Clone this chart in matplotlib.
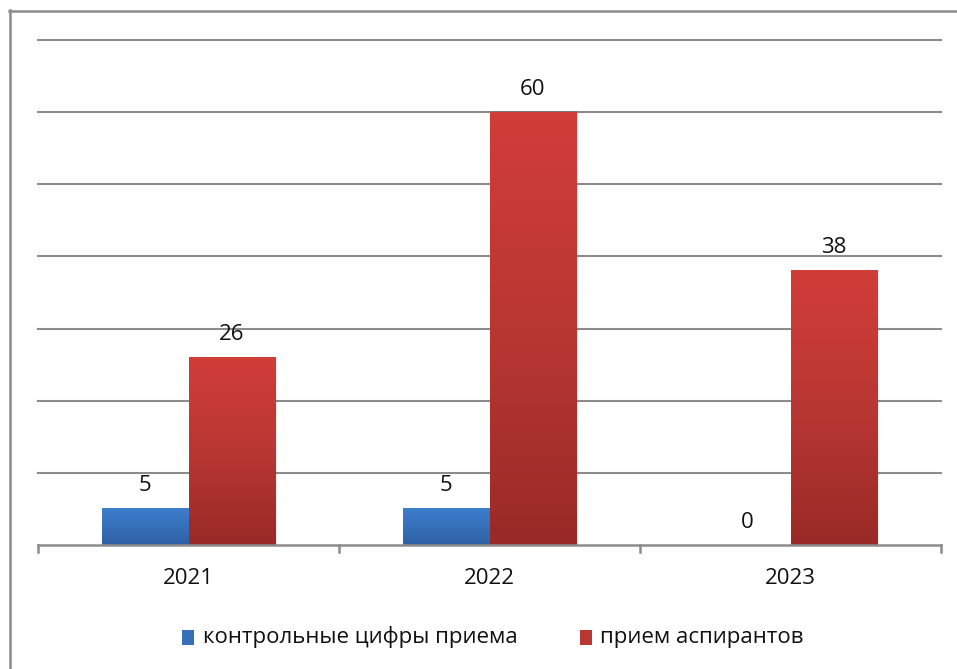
import numpy as np
import matplotlib
matplotlib.use("Agg")
import matplotlib.pyplot as plt
from matplotlib.colors import LinearSegmentedColormap
from matplotlib.lines import Line2D
from matplotlib.patches import Rectangle

plt.rcParams['font.family'] = ['Open Sans', 'DejaVu Sans']

years = ["2021", "2022", "2023"]
quota = [5, 5, 0]          # контрольные цифры приема
admitted = [26, 60, 38]    # прием аспирантов
series_names = ["контрольные цифры приема", "прием аспирантов"]

W, H = 957, 669
fig = plt.figure(figsize=(W / 100, H / 100), dpi=100)
fig.patch.set_facecolor("white")

# outer frame of the chart area
frame_col = "#8a8a8a"
fig.add_artist(Line2D([9.5 / W, 9.5 / W], [0, 1 - 10 / H], transform=fig.transFigure,
                      color=frame_col, lw=1.8))
fig.add_artist(Line2D([9 / W, 1], [1 - 10.5 / H, 1 - 10.5 / H], transform=fig.transFigure,
                      color=frame_col, lw=1.8))

left, right, top, bottom = 38, 941, 40, 545
ax = fig.add_axes([left / W, 1 - bottom / H, (right - left) / W, (bottom - top) / H])
ax.set_xlim(-0.5, 2.5)
ax.set_ylim(0, 70)
for s in ax.spines.values():
    s.set_visible(False)
ax.set_yticks([])
ax.set_xticks([])

grid_col = "#8c8c8c"
for yv in range(10, 71, 10):
    ax.axhline(yv, color=grid_col, lw=1.5, zorder=0, clip_on=False)
ax.axhline(0, color=grid_col, lw=1.8, zorder=4, clip_on=False)
# category separators as tick marks below the baseline
for xb in [-0.5, 0.5, 1.5, 2.5]:
    ax.plot([xb, xb], [0, -1.0], color=grid_col, lw=1.8, clip_on=False, zorder=4)

red_cmap = LinearSegmentedColormap.from_list("red", ["#D13D39", "#B93733", "#992A27"])
blue_cmap = LinearSegmentedColormap.from_list("blue", ["#3D7ECD", "#3670B9", "#2E60A2"])

bw = 0.287
x = np.arange(len(years))
grad = np.linspace(0, 1, 256).reshape(-1, 1)


def gradient_bar(xc, val, cmap):
    if val <= 0:
        return
    x0, x1 = xc - bw / 2, xc + bw / 2
    # faint shadow on the right of the bar
    for i, a in enumerate([0.07, 0.04, 0.02]):
        d = 0.003 * (i + 1)
        ax.add_patch(Rectangle((x0 + 0.002, 0), (x1 - x0) + d, val + 0.1,
                               facecolor="black", alpha=a, lw=0, zorder=1.5))
    ax.imshow(grad, extent=[x0, x1, 0, val], aspect="auto", cmap=cmap,
              origin="upper", zorder=2, interpolation="bilinear")


for i in range(len(years)):
    gradient_bar(x[i] - bw / 2, quota[i], blue_cmap)
    gradient_bar(x[i] + bw / 2, admitted[i], red_cmap)

fs = 16
for i in range(len(years)):
    ax.annotate(str(quota[i]), (x[i] - bw / 2, quota[i]), xytext=(0, 9),
                textcoords="offset points", ha="center", va="bottom", fontsize=fs,
                color="#111111")
    ax.annotate(str(admitted[i]), (x[i] + bw / 2, admitted[i]), xytext=(0, 9),
                textcoords="offset points", ha="center", va="bottom", fontsize=fs,
                color="#111111")
    ax.text(x[i], -4.6, years[i], ha="center", va="center", fontsize=fs, color="#111111")

# legend
leg_y = 1 - 637 / H
fig.add_artist(Rectangle((182 / W, 1 - 645 / H), 12 / W, 15 / H, transform=fig.transFigure,
                         facecolor="#3670B9", lw=0))
fig.text(203 / W, leg_y, series_names[0], ha="left", va="center", fontsize=fs,
         color="#111111")
fig.add_artist(Rectangle((580 / W, 1 - 645 / H), 12 / W, 15 / H, transform=fig.transFigure,
                         facecolor="#B93733", lw=0))
fig.text(600 / W, leg_y, series_names[1], ha="left", va="center", fontsize=fs,
         color="#111111")

fig.savefig("out.png", dpi=100, facecolor="white")
